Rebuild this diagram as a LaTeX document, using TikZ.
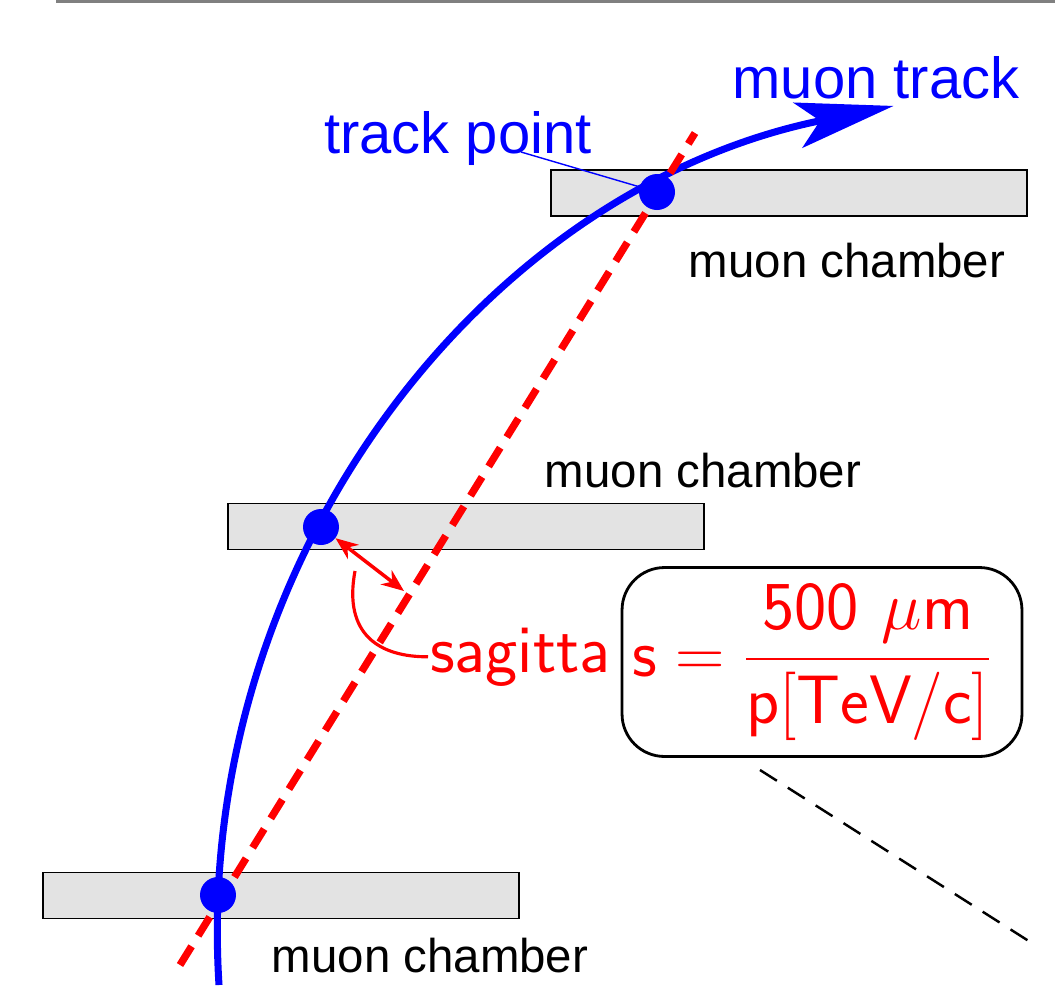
\RequirePackage{fix-cm}
\documentclass[tikz,border=0pt]{standalone}
\usepackage{amsmath}
\usepackage{fontspec}
\newfontfamily\helvfont{Liberation Sans}
\usepackage{tikz}
\usetikzlibrary{arrows.meta,calc,positioning}
\definecolor{chambergray}{RGB}{227,227,227}

\begin{document}
\begin{tikzpicture}[x=0.02cm,y=-0.02cm,
    chamber/.style={draw=black,line width=1.1pt,fill=chambergray,minimum width=9.52cm,minimum height=0.92cm,inner sep=0pt},
    chlabel/.style={anchor=base,inner sep=0pt,font=\helvfont\fontsize{27}{32}\selectfont},
    trkpt/.style={circle,fill=blue,minimum size=0.72cm,inner sep=0pt},
    trklabel/.style={anchor=base,inner sep=0pt,text=blue,font=\helvfont\fontsize{33}{40}\selectfont},
    redtext/.style={text=red,font=\sffamily\fontsize{39}{46}\selectfont}]
                \useasboundingbox (0,0) rectangle (1055,988);
                \draw[gray,line width=1.7pt] (56,1.5) -- (1055,1.5);
                % chambers
                \node[chamber] (ch1) at (789,193) {};
                \node[chamber] (ch2) at (466,526.5) {};
                \node[chamber] (ch3) at (281,895.5) {};
                \node[chlabel] (ch1lab) at (847,277) {muon chamber};
                \node[chlabel] (ch2lab) at (703,487) {muon chamber};
                \node[chlabel] (ch3lab) at (430,972) {muon chamber};
                % track and straight line
                \coordinate (trkbeg) at (219,985);
                \draw[blue,line width=4pt,-{Stealth[length=1.95cm,width=0.92cm,inset=0.45cm]}] (trkbeg) arc[start angle=183.6,end angle=101.4,radius=16.86cm];
                \coordinate (fitA) at (180,965);
                \coordinate (fitB) at (695,133);
                \draw[red,line width=4.2pt,dash pattern=on 0.44cm off 0.25cm] (fitA) -- (fitB);
                \node[trkpt] (tp1) at (218,895) {};
                \node[trkpt] (tp2) at (321,527) {};
                \node[trkpt] (tp3) at (657,192) {};
                % labels
                \node[trklabel] (tplab) at (458,153) {track point};
                \coordinate (leadA) at (521,152);
                \draw[blue,line width=0.8pt] (leadA) -- (tp3);
                \node[trklabel] (mtlab) at (876,98) {muon track};
                % sagitta
                \coordinate (sagfoot) at (404,591);
                \draw[red,line width=2pt,{Stealth[length=0.45cm,width=0.36cm]}-{Stealth[length=0.45cm,width=0.36cm]}] (tp2) -- (sagfoot);
                \node[redtext,anchor=base west,inner sep=1pt] (saglab) at (428,672) {sagitta};
                \coordinate (hookA) at (355,571);
                \draw[red,line width=1.8pt] (hookA) .. controls (343,635) and (380,657) .. (saglab.west);
                \node[redtext,draw=black,line width=1.6pt,rounded corners=0.85cm,inner xsep=0.2cm,text width=7.6cm,align=left,minimum height=3.78cm] (formula) at (822,662)
                    {$\mathsf{s} = \displaystyle\frac{\mathsf{500}\ \mu\mathsf{m}}{\mathsf{p}[\mathsf{TeV}/\mathsf{c}]}$};
                \coordinate (dashA) at (760,770);
                \coordinate (dashB) at (1035,945);
                \draw[line width=1.4pt,dash pattern=on 0.4cm off 0.26cm] (dashA) -- (dashB);
            \end{tikzpicture}
\end{document}
